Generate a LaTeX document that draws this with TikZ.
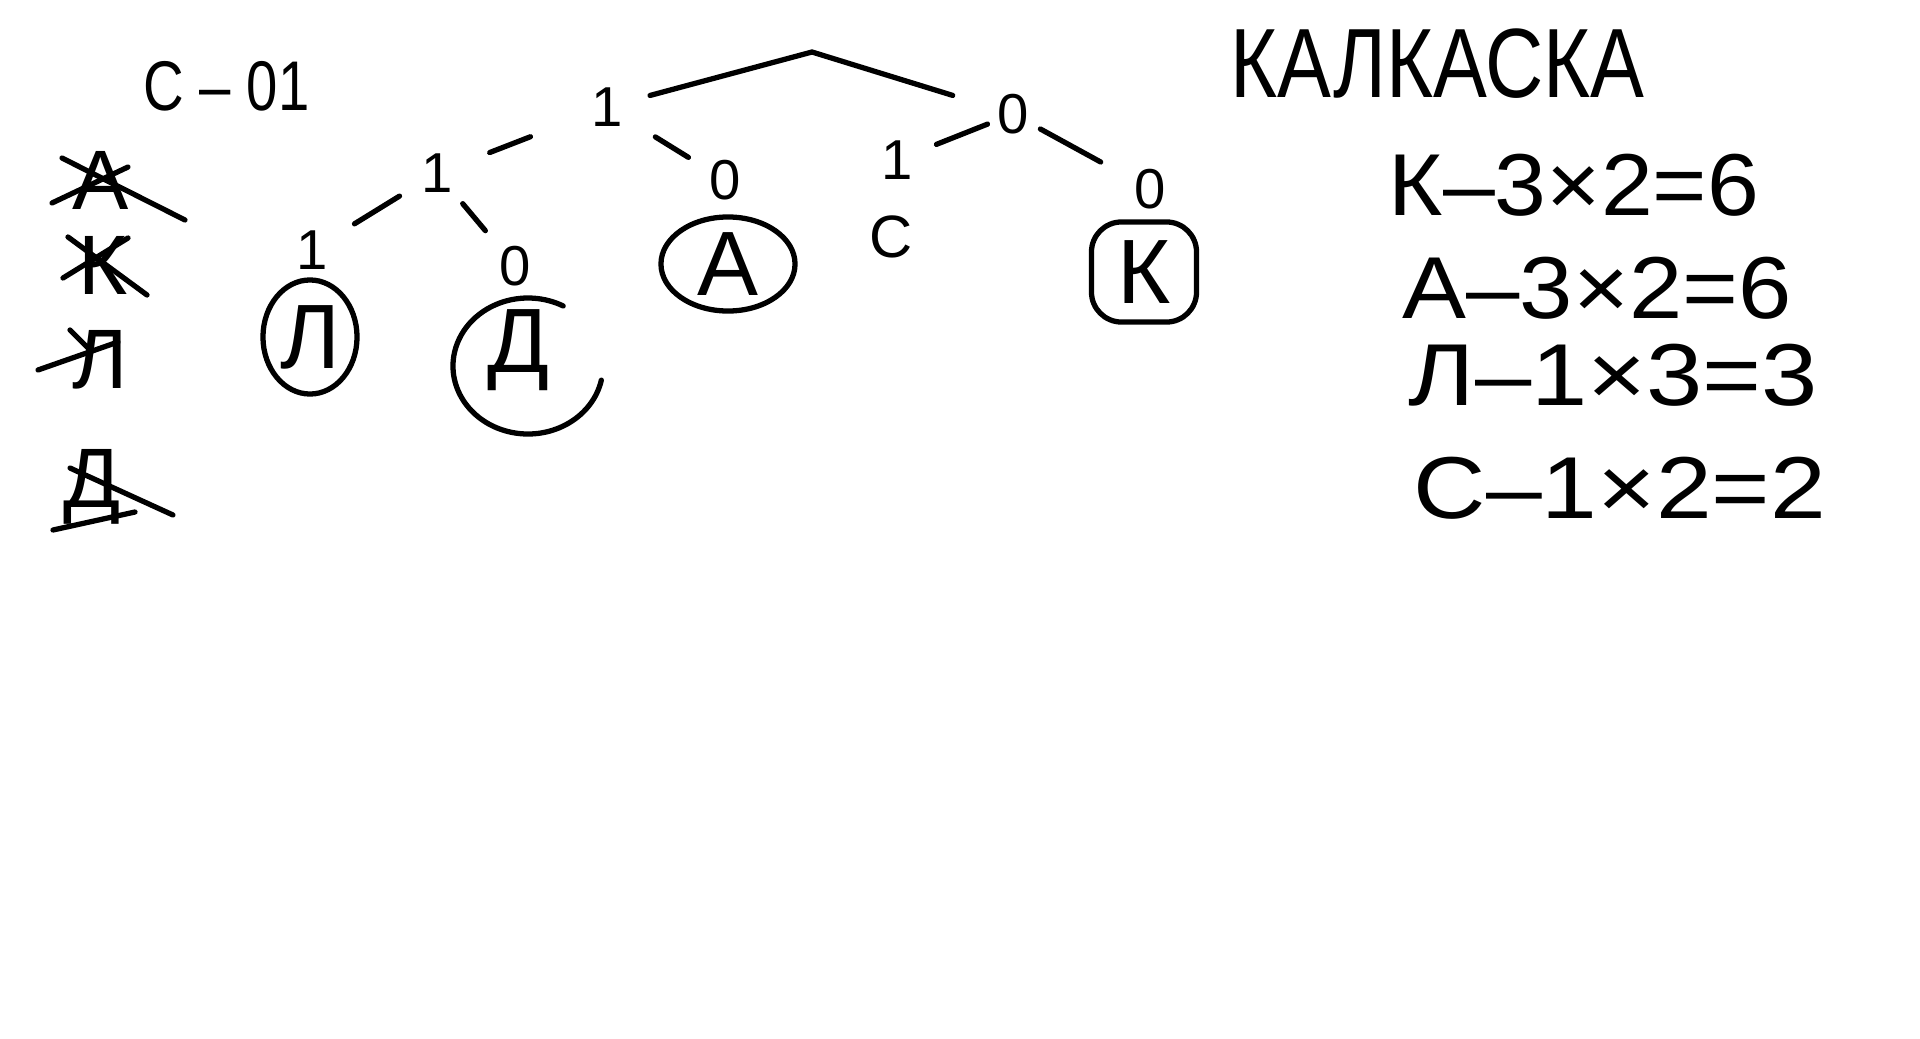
\documentclass[tikz,border=0pt]{standalone}
\usepackage{graphicx}
\usepackage{fontspec}
\setmainfont{Liberation Sans}
\usetikzlibrary{calc,shapes.geometric}
\newcommand{\narrowtext}[2][.8]{\scalebox{#1}[1]{#2}}

\begin{document}
\begin{tikzpicture}[x=.01cm, y=-.01cm,
  pen/.style={line width=1.5pt, line cap=round, line join=round},
  digit/.style={font=\fontsize{16}{16}\selectfont, inner sep=0pt},
  leaf/.style={font=\fontsize{26}{26}\selectfont, inner sep=0pt},
  big/.style={font=\fontsize{28}{28}\selectfont, anchor=base west, inner sep=0pt},
  cost/.style={font=\fontsize{25}{25}\selectfont, anchor=base west, inner sep=0pt},
  listletter/.style={font=\fontsize{24}{24}\selectfont, inner sep=0pt}]
\fill[white] (0,0) rectangle (1920,1039);
\useasboundingbox (0,0) rectangle (1920,1039);

% code of C
\node[font=\fontsize{20}{20}\selectfont, anchor=base west, inner sep=0pt] (code) at (143,110) {\narrowtext{С – 01}};

% crossed out letters
\node[listletter] (x1) at (101,180) {А};
\node[listletter] (x2) at (103,265) {К};
\node[listletter] (x3) at (100,360) {Л};
\node[listletter] (x4) at (92,487) {Д};
\draw[pen] (52,203) -- (128,167);
\draw[pen] (62,158) -- (185,220);
\draw[pen] (68,237) -- (147,295);
\draw[pen] (63,278) -- (128,238);
\draw[pen] (38,370) -- (118,342);
\draw[pen] (70,330) -- (90,350);
\draw[pen] (53,530) -- (135,512);
\draw[pen] (70,468) -- (173,515);

% tree
\coordinate (root) at (812,52);
\node[digit] (r1) at (607,107) {1};
\node[digit] (r0) at (1013,114) {0};
\node[digit] (n11) at (437,173) {1};
\node[digit] (n10) at (725,180) {0};
\node[digit] (n111) at (312,250) {1};
\node[digit] (n110) at (515,266) {0};
\node[digit] (n01) at (897,160) {1};
\node[digit] (n00) at (1150,189) {0};

\draw[pen] ($(r1)!.21!(root)$) -- (root) -- ($(r0)!.30!(root)$);
\draw[pen] ($(r1)!.45!(n11)$) -- ($(r1)!.69!(n11)$);
\draw[pen] ($(r1)!.41!(n10)$) -- ($(r1)!.69!(n10)$);
\draw[pen] ($(n11)!.30!(n111)$) -- ($(n11)!.66!(n111)$);
\draw[pen] ($(n11)!.33!(n110)$) -- ($(n11)!.62!(n110)$);
\draw[pen] ($(r0)!.22!(n01)$) -- ($(r0)!.66!(n01)$);
\draw[pen] ($(r0)!.20!(n00)$) -- ($(r0)!.64!(n00)$);

% leaves
\node[leaf, draw, pen, ellipse, minimum width=.94cm, minimum height=1.14cm] (leafL) at (310,337) {Л};
\node[leaf] (leafD) at (518,350) {Д};
\draw[pen] ($(528,366)+(12:75 and 68)$) arc[start angle=12, end angle=298, x radius=75, y radius=68];
\node[leaf, draw, pen, ellipse, minimum width=1.34cm, minimum height=.94cm] (leafA) at (728,264) {А};
\node[digit, font=\fontsize{17}{17}\selectfont] (leafC) at (891,237) {С};
\node[leaf, draw, pen, rounded corners=.3cm, minimum width=1.05cm, minimum height=1cm] (leafK) at (1144,272) {К};

% word and costs
\node[big] (title) at (1230,97) {\narrowtext[.82]{КАЛКАСКА}};
\node[cost] (eqK) at (1388,215) {\narrowtext[1.06]{К–3×2=6}};
\node[cost] (eqA) at (1402,318) {\narrowtext[1.09]{А–3×2=6}};
\node[cost] (eqL) at (1408,405) {\narrowtext[1.15]{Л–1×3=3}};
\node[cost] (eqC) at (1413,518) {\narrowtext[1.14]{С–1×2=2}};

\end{tikzpicture}
\end{document}
